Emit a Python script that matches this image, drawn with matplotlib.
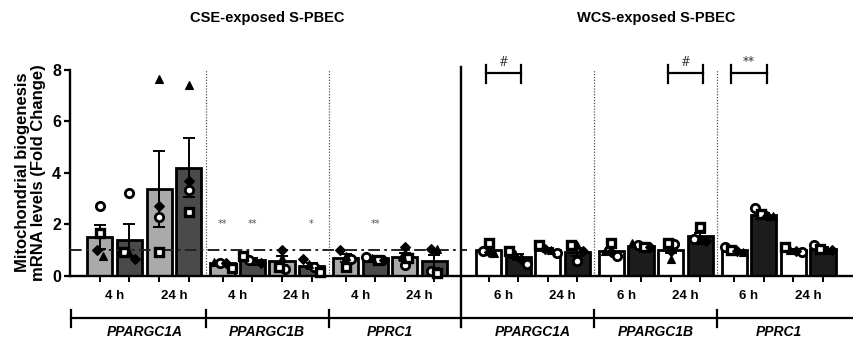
import numpy as np
import matplotlib
matplotlib.use("Agg")
import matplotlib.pyplot as plt
import matplotlib.transforms as mtransforms

plt.rcParams['font.family'] = ['Liberation Sans', 'DejaVu Sans']
plt.rcParams['font.weight'] = 'bold'

# ---------------- data ----------------
panels = ["CSE-exposed S-PBEC", "WCS-exposed S-PBEC"]
genes = ["PPARGC1A", "PPARGC1B", "PPRC1"]
cse_times = ["4 h", "24 h"]
wcs_times = ["6 h", "24 h"]

# bar order within each gene: [t1 ctrl, t1 exposed, t2 ctrl, t2 exposed]
cse_mean = [[1.50, 1.37, 3.37, 4.20],
            [0.47, 0.62, 0.57, 0.37],
            [0.68, 0.67, 0.72, 0.56]]
cse_sem = [[0.47, 0.62, 1.48, 1.15],
           [0.04, 0.06, 0.17, 0.11],
           [0.14, 0.03, 0.15, 0.25]]
wcs_mean = [[1.00, 0.73, 1.00, 0.92],
            [0.97, 1.16, 1.00, 1.52],
            [1.00, 2.37, 0.98, 1.05]]
wcs_sem = [[0.09, 0.11, 0.07, 0.15],
           [0.10, 0.04, 0.14, 0.12],
           [0.05, 0.08, 0.04, 0.05]]

# individual donors (circle, square, triangle, diamond)
cse_circle = [[2.71, 3.22, 2.27, 3.33], [0.50, 0.60, 0.25, 0.35], [0.65, 0.72, 0.42, 0.18]]
cse_square = [[1.67, 0.90, 0.93, 2.47], [0.30, 0.75, 0.35, 0.12], [0.35, 0.62, 0.68, 0.10]]
cse_triangle = [[0.77, 0.88, 7.65, 7.42], [0.52, 0.55, 0.70, 0.45], [0.75, 0.68, 0.77, 1.03]]
cse_diamond = [[1.00, 0.65, 2.72, 3.68], [0.48, 0.50, 1.00, 0.65], [1.00, 0.62, 1.10, 1.03]]

wcs_circle = [[0.95, 0.45, 0.88, 0.55], [0.74, 1.20, 1.22, 1.42], [1.12, 2.62, 0.90, 1.20]]
wcs_square = [[1.25, 0.97, 1.20, 1.19], [1.26, 1.12, 1.26, 1.90], [1.00, 2.38, 1.12, 1.05]]
wcs_triangle = [[0.88, 0.82, 0.98, 1.19], [0.97, 1.25, 0.64, 1.38], [0.90, 2.30, 1.00, 1.00]]
wcs_diamond = [[0.92, 0.65, 1.05, 0.95], [0.93, 1.10, 0.95, 1.35], [0.97, 2.32, 0.95, 0.98]]

# significance marks over single bars: (gene, bar, text)
cse_stars = [(1, 0, "**"), (1, 1, "**"), (1, 3, "*"), (2, 1, "**")]
# brackets between bars: (gene, bar a, bar b, text)
wcs_brackets = [(0, 0, 1, "#"), (1, 2, 3, "#"), (2, 0, 1, "**")]

ref_level = 1.0

# ---------------- layout ----------------
W, H = 854, 342
fig = plt.figure(figsize=(W / 100, H / 100), dpi=100)
ax_l, ax_b, ax_r, ax_t = 70, 275.5, 854, 70
ax = fig.add_axes([ax_l / W, 1 - ax_b / H, (ax_r - ax_l) / W, (ax_b - ax_t) / H])

group_step = 4.15
mid_gap = 0.68
bar_w = 0.85


def group_start(panel, g):
    k = panel * 3 + g
    return k * group_step + (mid_gap if panel == 1 else 0.0)


def bar_x(panel, g, i):
    return group_start(panel, g) + i


def spread(vals, thr=0.26, step=0.2):
    vals = np.asarray(vals, float)
    order = np.argsort(-vals)
    offs = np.zeros(len(vals))
    clusters = [[order[0]]]
    for idx in order[1:]:
        if vals[clusters[-1][-1]] - vals[idx] < thr:
            clusters[-1].append(idx)
        else:
            clusters.append([idx])
    for c in clusters:
        k = len(c)
        for j, idx in enumerate(c):
            offs[idx] = (j - (k - 1) / 2) * step
    return offs


light = "#aaaaaa"
dark = "#4a4a4a"
panel_colors = [[light, dark, light, dark], ["white", "#1c1c1c", "white", "#1c1c1c"]]
means = [cse_mean, wcs_mean]
sems = [cse_sem, wcs_sem]
pts = [[cse_circle, cse_square, cse_triangle, cse_diamond],
       [wcs_circle, wcs_square, wcs_triangle, wcs_diamond]]
mk_style = [dict(marker="o", mfc="white", mec="black", mew=2.0, ms=6.0),
            dict(marker="s", mfc="white", mec="black", mew=2.4, ms=6.0),
            dict(marker="^", mfc="black", mec="black", mew=0.8, ms=6.4),
            dict(marker="D", mfc="black", mec="black", mew=0.8, ms=5.2)]

all_x = []
for p in range(2):
    for g in range(3):
        for i in range(4):
            x = bar_x(p, g, i)
            all_x.append(x)
            m = means[p][g][i]
            s = sems[p][g][i]
            ax.bar(x, m, width=bar_w, color=panel_colors[p][i], edgecolor="black",
                   linewidth=2.0, zorder=2)
            ax.errorbar(x, m, yerr=s, fmt="none", ecolor="black", elinewidth=1.4,
                        capsize=4.3, capthick=1.4, zorder=3)
            vals = [pts[p][k][g][i] for k in range(4)]
            offs = spread(vals)
            for k in range(4):
                ax.plot(x + offs[k], vals[k], linestyle="none", zorder=4,
                        clip_on=False, **mk_style[k])

x_left = -1.01
x_right = x_left + (ax_r - ax_l) / 29.6
ax.set_xlim(x_left, x_right)
ax.set_ylim(0, 8)

for sp in ["top", "right"]:
    ax.spines[sp].set_visible(False)
ax.spines["left"].set_linewidth(1.7)
ax.spines["bottom"].set_linewidth(1.7)
ax.set_xticks(all_x)
ax.set_xticklabels([])
ax.tick_params(axis="x", length=4.5, width=1.4, direction="out")
ax.set_yticks([0, 2, 4, 6, 8])
ax.tick_params(axis="y", length=4.5, width=1.6, direction="out", labelsize=11.5, pad=2)
for t in ax.get_yticklabels():
    t.set_fontweight("bold")

ax.set_ylabel("Mitochondrial biogenesis\nmRNA levels (Fold Change)", fontsize=12,
              fontweight="bold", labelpad=4, linespacing=1.12)

trans = mtransforms.blended_transform_factory(ax.transData, ax.transAxes)


def ay(py):
    return (ax_b - py) / (ax_b - ax_t)


# separators between genes
seps = []
for p in range(2):
    for g in range(2):
        seps.append((p, (bar_x(p, g, 3) + bar_x(p, g + 1, 0)) / 2))
mid_sep = (bar_x(0, 2, 3) + bar_x(1, 0, 0)) / 2
for p, s in seps:
    ax.plot([s, s], [0, 8], color="#555555", lw=0.9, ls=(0, (1, 1.3)), zorder=1)
ax.plot([mid_sep, mid_sep], [ay(67), ay(327)], color="black", lw=1.7,
        transform=trans, clip_on=False, zorder=5)

# reference level
ax.plot([x_left, mid_sep + 0.18], [ref_level, ref_level], color="#222222", lw=1.4,
        ls=(0, (6, 2.2, 1.4, 2.2)), zorder=3, clip_on=False)

# time labels
times = [cse_times, wcs_times]
for p in range(2):
    for g in range(3):
        for j in range(2):
            xc = (bar_x(p, g, 2 * j) + bar_x(p, g, 2 * j + 1)) / 2
            ax.text(xc, ay(296), times[p][j], transform=trans, ha="center", va="center",
                    fontsize=9.5, fontweight="bold")

# gene brackets
yb = ay(318)
ax.plot([x_left + 0.03, x_right + 0.5], [yb, yb], color="black", lw=1.6,
        transform=trans, clip_on=False)
for xt in [x_left + 0.03] + [s for _, s in seps]:
    ax.plot([xt, xt], [ay(310), ay(327)], color="black", lw=1.6,
            transform=trans, clip_on=False)
for p in range(2):
    for g in range(3):
        xc = (bar_x(p, g, 0) + bar_x(p, g, 3)) / 2
        ax.text(xc, ay(332), genes[g], transform=trans, ha="center", va="center",
                fontsize=10, fontweight="bold", fontstyle="italic")

# panel titles
for p in range(2):
    xc = (bar_x(p, 0, 0) + bar_x(p, 2, 3)) / 2
    ax.text(xc, ay(18), panels[p], transform=trans, ha="center", va="center",
            fontsize=10.5, fontweight="bold")

# significance
for g, i, txt in cse_stars:
    ax.text(bar_x(0, g, i), 2.0, txt, ha="center", va="center", fontsize=7,
            color="#555555", fontweight="normal", family="DejaVu Sans")
for g, a, b, txt in wcs_brackets:
    xa = bar_x(1, g, a) - 0.1
    xb = bar_x(1, g, b) + 0.1
    yy = ay(73)
    ax.plot([xa, xb], [yy, yy], color="black", lw=1.6, transform=trans, clip_on=False)
    for xx in (xa, xb):
        ax.plot([xx, xx], [ay(65), ay(83)], color="black", lw=1.6, transform=trans,
                clip_on=False)
    ax.text((xa + xb) / 2, ay(63), txt, transform=trans, ha="center", va="center",
            fontsize=8.5, fontweight="normal", family="DejaVu Serif", color="#333333")

fig.savefig("out.png", dpi=100)
